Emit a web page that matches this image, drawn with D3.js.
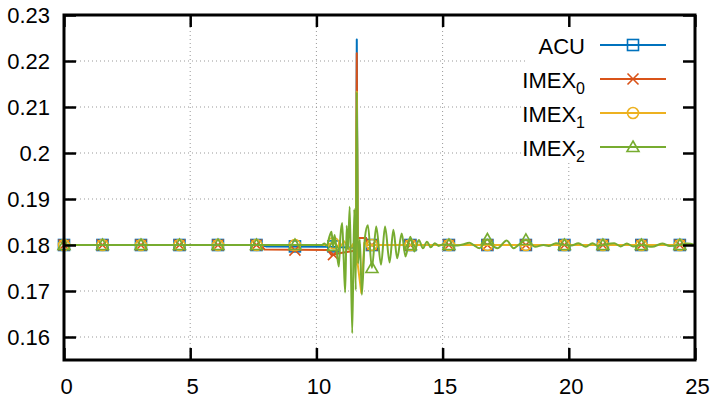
<!DOCTYPE html>
<html>
<head>
<meta charset="utf-8">
<script src="https://cdn.jsdelivr.net/npm/d3@7"></script>
<style>
body{margin:0;background:#fff;}
svg{display:block;font-family:"Liberation Sans",Arial,Helvetica,sans-serif;}
</style>
</head>
<body>
<script>
//tick values
var xTicks = [0, 5, 10, 15, 20, 25];
var yTicks = [0.16, 0.17, 0.18, 0.19, 0.2, 0.21, 0.22, 0.23];

//series names (base + subscript)
var names = ["ACU", "IMEX", "IMEX", "IMEX"];
var subs = ["", "0", "1", "2"];
var colors = ["#0072bd", "#d95319", "#edb120", "#77ac30"];
var symbols = ["square", "cross", "circle", "triangle"];

//line data, [x, y]
var acu = [[0,0.18],[7.8,0.18],[8.0,0.1797],[10.45,0.1796],[11.57,0.1794],[11.6,0.2247],
  [11.63,0.1815],[11.97,0.1815],[12.02,0.18],[25,0.18]];
var imex0 = [[0,0.18],[7.8,0.18],[7.95,0.179],[10.45,0.1789],[10.6,0.1778],[10.9,0.1782],
  [11.57,0.1788],[11.6,0.2217],[11.63,0.1815],[11.97,0.1815],[12.02,0.18],[25,0.18]];
var imex1 = [[0,0.18],[10.4,0.18],[10.7,0.1806],[10.9,0.1793],[11.1,0.1808],[11.3,0.179],
  [11.45,0.1802],[11.56,0.1757],[11.6,0.2133],[11.64,0.1757],[11.78,0.1696],[11.9,0.1805],[12.05,0.18],[25,0.18]];
var imex2 = [[0,0.18],[10.2,0.18],[10.32,0.1803],[10.42,0.1798],[10.5,0.1815],[10.6,0.1829],
  [10.66,0.1796],[10.72,0.1822],[10.8,0.1788],[10.89,0.1753],[10.95,0.1818],[11.02,0.1848],
  [11.08,0.1772],[11.14,0.1697],[11.2,0.1842],[11.25,0.179],[11.32,0.1883],[11.42,0.1608],
  [11.5,0.1878],[11.56,0.1702],[11.6,0.2133],[11.65,0.176],[11.72,0.1812],[11.8,0.1692],
  [11.92,0.1815],[12.04,0.1843],[12.2,0.175],[12.37,0.184],[12.56,0.1757],[12.72,0.184],
  [12.9,0.1762],[13.05,0.1833],[13.2,0.1771],[13.38,0.1825],[13.53,0.1775],[13.72,0.1818],
  [13.88,0.1786],[14.06,0.1811],[14.22,0.1793],[14.38,0.1807],[14.53,0.1795],[14.69,0.1804],
  [14.85,0.1798],[15.0,0.1801],[15.25,0.18],[15.6,0.1799],[15.8,0.1801],[16.06,0.1805],
  [16.25,0.1799],[16.46,0.1793],[16.775,0.1812],[16.95,0.18],[17.17,0.1793],[17.54,0.181],
  [17.81,0.1793],[18.05,0.1802],[18.3,0.1811],[18.67,0.1796],[19.0,0.18],[19.2,0.1798],
  [19.49,0.1804],[19.825,0.18],[20.1,0.1799],[20.38,0.1804],[20.67,0.1796],[20.94,0.1804],
  [21.15,0.1798],[21.35,0.18],[21.8,0.1804],[22.05,0.1797],[22.3,0.1803],[22.55,0.1797],
  [22.875,0.18],[23.3,0.1796],[23.7,0.1803],[24.0,0.1798],[24.4,0.18],[24.7,0.1803],[25,0.18]];

//marker positions and values
var markX = [0, 1.525, 3.05, 4.575, 6.1, 7.625, 9.15, 10.675, 12.2, 13.725, 15.25, 16.775, 18.3, 19.825, 21.35, 22.875, 24.4];
var acuMarks   = [0.18,0.18,0.18,0.18,0.18,0.18,0.1797,0.1797,0.18,0.18,0.18,0.18,0.18,0.18,0.18,0.18,0.18];
var imex0Marks = [0.18,0.18,0.18,0.18,0.18,0.18,0.1789,0.1779,0.18,0.18,0.18,0.18,0.18,0.18,0.18,0.18,0.18];
var imex1Marks = [0.18,0.18,0.18,0.18,0.18,0.18,0.18,0.1804,0.18,0.18,0.18,0.18,0.18,0.18,0.18,0.18,0.18];
var imex2Marks = [0.18,0.18,0.18,0.18,0.18,0.18,0.18,0.1798,0.175,0.18,0.18,0.1812,0.1811,0.18,0.18,0.18,0.18];

var lines = [acu, imex0, imex1, imex2];
var marks = [acuMarks, imex0Marks, imex1Marks, imex2Marks];

var width = 712, height = 405;
var margin = {left: 64, right: 17, top: 15, bottom: 45};

var svg = d3.select("body").append("svg")
  .attr("width", width)
  .attr("height", height);

var x = d3.scaleLinear().domain([0, 25]).range([margin.left, width - margin.right]);
var y = d3.scaleLinear().domain([0.155, 0.23]).range([height - margin.bottom, margin.top]);

//grid
var grid = svg.append("g").attr("class", "grid")
  .attr("stroke", "#999").attr("stroke-width", 1).attr("stroke-dasharray", "1,3");
grid.selectAll(".gx").data(xTicks.slice(1, -1)).enter().append("line")
  .attr("x1", function(d){ return x(d); }).attr("x2", function(d){ return x(d); })
  .attr("y1", y.range()[1]).attr("y2", y.range()[0]);
grid.selectAll(".gy").data(yTicks.slice(0, -1)).enter().append("line")
  .attr("y1", function(d){ return y(d); }).attr("y2", function(d){ return y(d); })
  .attr("x1", x.range()[0]).attr("x2", x.range()[1]);

//opaque key box
svg.append("rect")
  .attr("x", 528).attr("y", margin.top)
  .attr("width", x.range()[1] - 528).attr("height", 148)
  .attr("fill", "#fff");

//series
function drawMarker(g, sym, color){
  if (sym == "square"){
    g.append("rect").attr("x", -5.5).attr("y", -5.5).attr("width", 11).attr("height", 11)
      .attr("fill", "none").attr("stroke", color).attr("stroke-width", 1.6);
  } else if (sym == "cross"){
    g.append("path").attr("d", "M-5.5,-5.5L5.5,5.5M-5.5,5.5L5.5,-5.5")
      .attr("fill", "none").attr("stroke", color).attr("stroke-width", 1.6);
  } else if (sym == "circle"){
    g.append("circle").attr("r", 5.5)
      .attr("fill", "none").attr("stroke", color).attr("stroke-width", 1.6);
  } else {
    g.append("path").attr("d", "M0,-6L6,4.5L-6,4.5Z")
      .attr("fill", "none").attr("stroke", color).attr("stroke-width", 1.6);
  }
}

lines.forEach(function(data, k){
  var line = d3.line()
    .x(function(d){ return x(d[0]); })
    .y(function(d){ return y(d[1]); })
    .curve(k == 3 ? d3.curveMonotoneX : d3.curveLinear);
  svg.append("path")
    .datum(data)
    .attr("fill", "none")
    .attr("stroke", colors[k])
    .attr("stroke-width", 2)
    .attr("stroke-linejoin", "round")
    .attr("d", line);
  markX.forEach(function(mx, i){
    var g = svg.append("g").attr("transform", "translate(" + x(mx) + "," + y(marks[k][i]) + ")");
    drawMarker(g, symbols[k], colors[k]);
  });
});

//axes
var fontSize = 22;
var xAxis = svg.append("g")
  .attr("transform", "translate(0," + y.range()[0] + ")")
  .call(d3.axisBottom(x).tickValues(xTicks).tickSizeInner(-12).tickSizeOuter(0).tickPadding(18)
    .tickFormat(function(d){ return d; }));
var xAxisTop = svg.append("g")
  .attr("transform", "translate(0," + y.range()[1] + ")")
  .call(d3.axisTop(x).tickValues(xTicks).tickSizeInner(-12).tickSizeOuter(0).tickFormat(""));
var yAxis = svg.append("g")
  .attr("transform", "translate(" + x.range()[0] + ",0)")
  .call(d3.axisLeft(y).tickValues(yTicks).tickSizeInner(-12).tickSizeOuter(0).tickPadding(14)
    .tickFormat(function(d){ return String(+d.toFixed(2)); }));
var yAxisRight = svg.append("g")
  .attr("transform", "translate(" + x.range()[1] + ",0)")
  .call(d3.axisRight(y).tickValues(yTicks).tickSizeInner(-12).tickSizeOuter(0).tickFormat(""));

[xAxis, xAxisTop, yAxis, yAxisRight].forEach(function(a){
  a.select(".domain").remove();
  a.selectAll(".tick line").attr("stroke", "#000").attr("stroke-width", 2.5);
  a.selectAll("text").attr("font-size", fontSize).attr("fill", "#000")
    .attr("font-family", "'Liberation Sans', Arial, sans-serif");
});
xAxis.selectAll("text").attr("dx", 2);

//frame
svg.append("rect")
  .attr("x", x.range()[0]).attr("y", y.range()[1])
  .attr("width", x.range()[1] - x.range()[0])
  .attr("height", y.range()[0] - y.range()[1])
  .attr("fill", "none").attr("stroke", "#000").attr("stroke-width", 3);

//legend
var legendY = [45, 79, 113, 147];
names.forEach(function(n, k){
  var t = svg.append("text")
    .attr("x", 585).attr("y", legendY[k] + 9)
    .attr("text-anchor", "end")
    .attr("font-size", fontSize);
  t.append("tspan").text(n);
  if (subs[k] != ""){
    t.append("tspan").attr("font-size", 16).attr("dy", 6).text(subs[k]);
  }
  svg.append("line")
    .attr("x1", 600).attr("x2", 666)
    .attr("y1", legendY[k]).attr("y2", legendY[k])
    .attr("stroke", colors[k]).attr("stroke-width", 2);
  var g = svg.append("g").attr("transform", "translate(633," + legendY[k] + ")");
  drawMarker(g, symbols[k], colors[k]);
});
</script>
</body>
</html>
